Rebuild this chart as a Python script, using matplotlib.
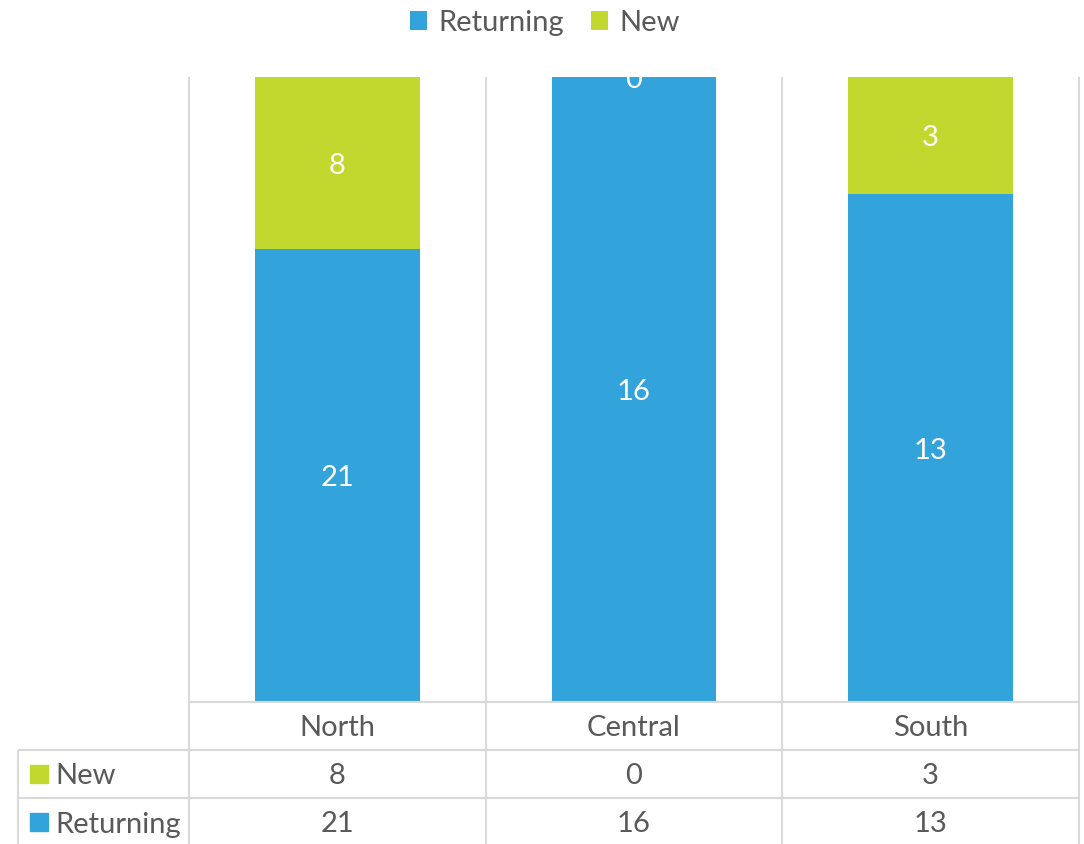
import numpy as np
import matplotlib.pyplot as plt
from matplotlib.lines import Line2D

plt.rcParams["font.family"] = ["Lato", "DejaVu Sans"]

categories = ["North", "Central", "South"]
returning = [21, 16, 13]
new = [8, 0, 3]

BLUE = "#33a3dc"
GREEN = "#c1d82f"
GRID = "#d9d9d9"
TEXT = "#595959"
FS = 21

W, H = 1084, 844


def px_rect(l, t, r, b):
    return [l / W, 1 - b / H, (r - l) / W, (b - t) / H]


def main():
    ret = np.array(returning, dtype=float)
    nw = np.array(new, dtype=float)
    tot = ret + nw
    ret_f = ret / tot
    new_f = nw / tot
    x = np.arange(len(categories))

    fig = plt.figure(figsize=(W / 100, H / 100), dpi=100)

    # chart area
    ax = fig.add_axes(px_rect(189, 77, 1079, 702))
    ax.set_xlim(-0.5, len(categories) - 0.5)
    ax.set_ylim(0, 1)
    for s in ax.spines.values():
        s.set_visible(False)
    ax.set_xticks([])
    ax.set_yticks([])
    ax.vlines(np.arange(-0.5, len(categories), 1.0), 0, 1, color=GRID, lw=1.5, zorder=0, clip_on=False)

    b1 = ax.bar(x, ret_f, width=0.556, color=BLUE, label="Returning", zorder=2)
    b2 = ax.bar(x, new_f, width=0.556, bottom=ret_f, color=GREEN, label="New", zorder=2)

    for i in range(len(categories)):
        ax.text(x[i], ret_f[i] / 2, str(returning[i]), ha="center", va="center_baseline",
                color="white", fontsize=FS, zorder=3)
        ax.text(x[i], ret_f[i] + new_f[i] / 2, str(new[i]), ha="center", va="center_baseline",
                color="white", fontsize=FS, zorder=3, clip_on=True)

    fig.legend([b1, b2], ["Returning", "New"], loc="center", bbox_to_anchor=(545 / W, 1 - 23 / H),
               ncol=2, frameon=False, fontsize=FS, handlelength=0.6, handleheight=0.6,
               handletextpad=0.4, columnspacing=0.9, labelcolor=TEXT)

    # data table
    tax = fig.add_axes(px_rect(189, 702, 1079, 846))
    tax.set_xlim(-0.5, len(categories) - 0.5)
    tax.set_ylim(3, 0)
    tax.axis("off")
    col_px = (1079 - 189) / len(categories)
    left = -0.5 - (189 - 18) / col_px
    kw = dict(color=GRID, lw=1.5, clip_on=False)
    tax.hlines(0, -0.5, len(categories) - 0.5, **kw)
    tax.hlines([1, 2], left, len(categories) - 0.5, **kw)
    tax.vlines(np.arange(-0.5, len(categories), 1.0), 0, 3, **kw)
    tax.vlines(left, 1, 3, **kw)

    for i, c in enumerate(categories):
        tax.text(i, 0.5, c, ha="center", va="center_baseline", fontsize=FS, color=TEXT)
        tax.text(i, 1.5, str(new[i]), ha="center", va="center_baseline", fontsize=FS, color=TEXT)
        tax.text(i, 2.5, str(returning[i]), ha="center", va="center_baseline", fontsize=FS, color=TEXT)

    mk_x = left + 20.5 / col_px
    tx_x = left + 37 / col_px
    for row, (name, col) in enumerate([("New", GREEN), ("Returning", BLUE)], start=1):
        tax.add_line(Line2D([mk_x], [row + 0.5], marker="s", ms=12.5, color=col, lw=0, clip_on=False))
        tax.text(tx_x, row + 0.5, name, ha="left", va="center_baseline", fontsize=FS, color=TEXT,
                 clip_on=False)

    fig.savefig("out.png", dpi=100)


if __name__ == "__main__":
    main()
